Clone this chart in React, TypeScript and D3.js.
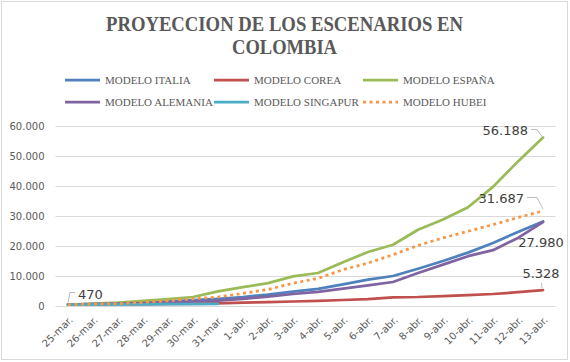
import React from "react";
import * as d3 from "d3";

const categories = [
  "25-mar.", "26-mar.", "27-mar.", "28-mar.", "29-mar.", "30-mar.", "31-mar.",
  "1-abr.", "2-abr.", "3-abr.", "4-abr.", "5-abr.", "6-abr.", "7-abr.", "8-abr.",
  "9-abr.", "10-abr.", "11-abr.", "12-abr.", "13-abr.",
];

const italia = [470, 650, 900, 1200, 1550, 1950, 2400, 3000, 3800, 4800, 5700, 7200, 8800, 10000, 12400, 15000, 17800, 21000, 24700, 28200];
const corea = [470, 530, 600, 650, 720, 800, 900, 1100, 1300, 1500, 1700, 2000, 2300, 2900, 3000, 3300, 3600, 4000, 4600, 5328];
const espana = [470, 800, 1100, 1700, 2300, 3000, 4900, 6300, 7600, 9900, 11000, 14600, 18000, 20400, 25400, 28800, 32900, 39700, 48200, 56188];
const alemania = [470, 600, 800, 1000, 1200, 1500, 1800, 2400, 3100, 4000, 4700, 5800, 6900, 8000, 11000, 13800, 16600, 18600, 22700, 27980];
const singapur: (number | null)[] = [470, 500, 530, 560, 600, 640, 680, null, null, null, null, null, null, null, null, null, null, null, null, null];
const hubei = [470, 600, 800, 1200, 1800, 2400, 3000, 4200, 5500, 7600, 9200, 12100, 14300, 17100, 20200, 22700, 24900, 27100, 29500, 31687];

const yTicks = [0, 10000, 20000, 30000, 40000, 50000, 60000];

const series = [
  { name: "MODELO ITALIA", values: italia as (number | null)[], color: "#4F81BD", dotted: false },
  { name: "MODELO COREA", values: corea as (number | null)[], color: "#C0504D", dotted: false },
  { name: "MODELO ESPAÑA", values: espana as (number | null)[], color: "#9BBB59", dotted: false },
  { name: "MODELO ALEMANIA", values: alemania as (number | null)[], color: "#8064A2", dotted: false },
  { name: "MODELO SINGAPUR", values: singapur, color: "#4BACC6", dotted: false },
  { name: "MODELO HUBEI", values: hubei as (number | null)[], color: "#F79646", dotted: true },
];

const fmt = (v: number) => d3.format(",")(v).replace(/,/g, ".");

export default function App() {
  const W = 570, H = 362;
  const left = 55.5, right = 555.5, top = 126, bottom = 306;
  const x = d3.scaleBand<string>().domain(categories).range([left, right]);
  const cx = (c: string) => (x(c) as number) + x.bandwidth() / 2;
  const y = d3.scaleLinear().domain([0, 60000]).range([bottom, top]);

  const line = d3
    .line<number | null>()
    .defined((d) => d !== null)
    .x((_, i) => cx(categories[i]))
    .y((d) => y(d as number));

  const last = categories.length - 1;
  const lx = cx(categories[last]);
  const x0 = cx(categories[0]);

  const legendCols = [65, 214, 363];
  const legendRows = [80, 102];

  return (
    <div style={{ position: "absolute", left: 0, top: 0 }}>
      <svg width={W} height={H} style={{ display: "block" }}>
        <rect x={0} y={0} width={W} height={H} fill="#fff" />
        <rect x={1.5} y={1.5} width={566} height={358} fill="#fff" stroke="#d9d9d9" strokeWidth={1} />
        <g fontFamily="'Liberation Serif', serif" fontWeight="bold" fill="#595959" fontSize={21}>
          <text x={284.5} y={30.7} textAnchor="middle" textLength={357} lengthAdjust="spacingAndGlyphs">
            PROYECCION DE LOS ESCENARIOS EN
          </text>
          <text x={284.5} y={54.3} textAnchor="middle" textLength={105} lengthAdjust="spacingAndGlyphs">
            COLOMBIA
          </text>
        </g>
        <g fontFamily="'Liberation Serif', serif" fontSize={11} fill="#595959">
          {series.map((s, i) => {
            const lxp = legendCols[i % 3];
            const ly = legendRows[Math.floor(i / 3)];
            return (
              <g key={s.name}>
                <line
                  x1={lxp} x2={lxp + 35} y1={ly} y2={ly}
                  stroke={s.color} strokeWidth={2.75}
                  strokeDasharray={s.dotted ? "3 3.5" : undefined}
                />
                <text x={lxp + 40} y={ly} dy="0.35em">{s.name}</text>
              </g>
            );
          })}
        </g>
        <g>
          {yTicks.map((t) => (
            <g key={t}>
              <line x1={left} x2={right} y1={Math.round(y(t)) + 0.5} y2={Math.round(y(t)) + 0.5} stroke="#d9d9d9" strokeWidth={1} />
              <text x={44.5} y={y(t)} dy="0.35em" textAnchor="end" fontFamily="'DejaVu Sans', sans-serif" fontSize={10} fill="#595959">
                {fmt(t)}
              </text>
            </g>
          ))}
        </g>
        <g fontFamily="'DejaVu Sans', sans-serif" fontSize={10} fill="#595959">
          {categories.map((c) => (
            <text key={c} transform={`translate(${cx(c) + 3},${318}) rotate(-45)`} textAnchor="end" dy="0.35em">
              {c}
            </text>
          ))}
        </g>
        <g fill="none" strokeLinejoin="round">
          {series.map((s) => (
            <path
              key={s.name}
              d={line(s.values) as string}
              stroke={s.color}
              strokeWidth={2.75}
              strokeDasharray={s.dotted ? "3 3.5" : undefined}
              strokeLinecap={s.dotted ? "butt" : "round"}
            />
          ))}
        </g>
        <g fontFamily="'DejaVu Sans', sans-serif" fontSize={13} fill="#404040">
          <path d={`M${x0},${y(italia[0]) - 2} L${x0 + 2},${292.5} L${x0 + 7},${292.5}`} fill="none" stroke="#a6a6a6" strokeWidth={0.75} />
          <text x={x0 + 10} y={298.5}>{fmt(italia[0])}</text>
          <path d={`M${lx - 12},${129.5} L${lx - 6},${129.5} L${lx - 1},${y(espana[last]) - 1}`} fill="none" stroke="#a6a6a6" strokeWidth={0.75} />
          <text x={lx - 15} y={130.7} dy="0.35em" textAnchor="end">{fmt(espana[last])}</text>
          <path d={`M${lx - 16},${197.5} L${lx - 6},${197.5} L${lx},${y(hubei[last]) - 2}`} fill="none" stroke="#a6a6a6" strokeWidth={0.75} />
          <text x={lx - 19} y={198} dy="0.35em" textAnchor="end">{fmt(hubei[last])}</text>
          <text x={lx - 2} y={242.7} dy="0.35em" textAnchor="middle">{fmt(alemania[last])}</text>
          <path d={`M${lx - 1},${y(corea[last]) - 2} L${lx - 1.5},${283}`} fill="none" stroke="#a6a6a6" strokeWidth={0.75} />
          <text x={lx - 2} y={273} dy="0.35em" textAnchor="middle">{fmt(corea[last])}</text>
        </g>
      </svg>
    </div>
  );
}
